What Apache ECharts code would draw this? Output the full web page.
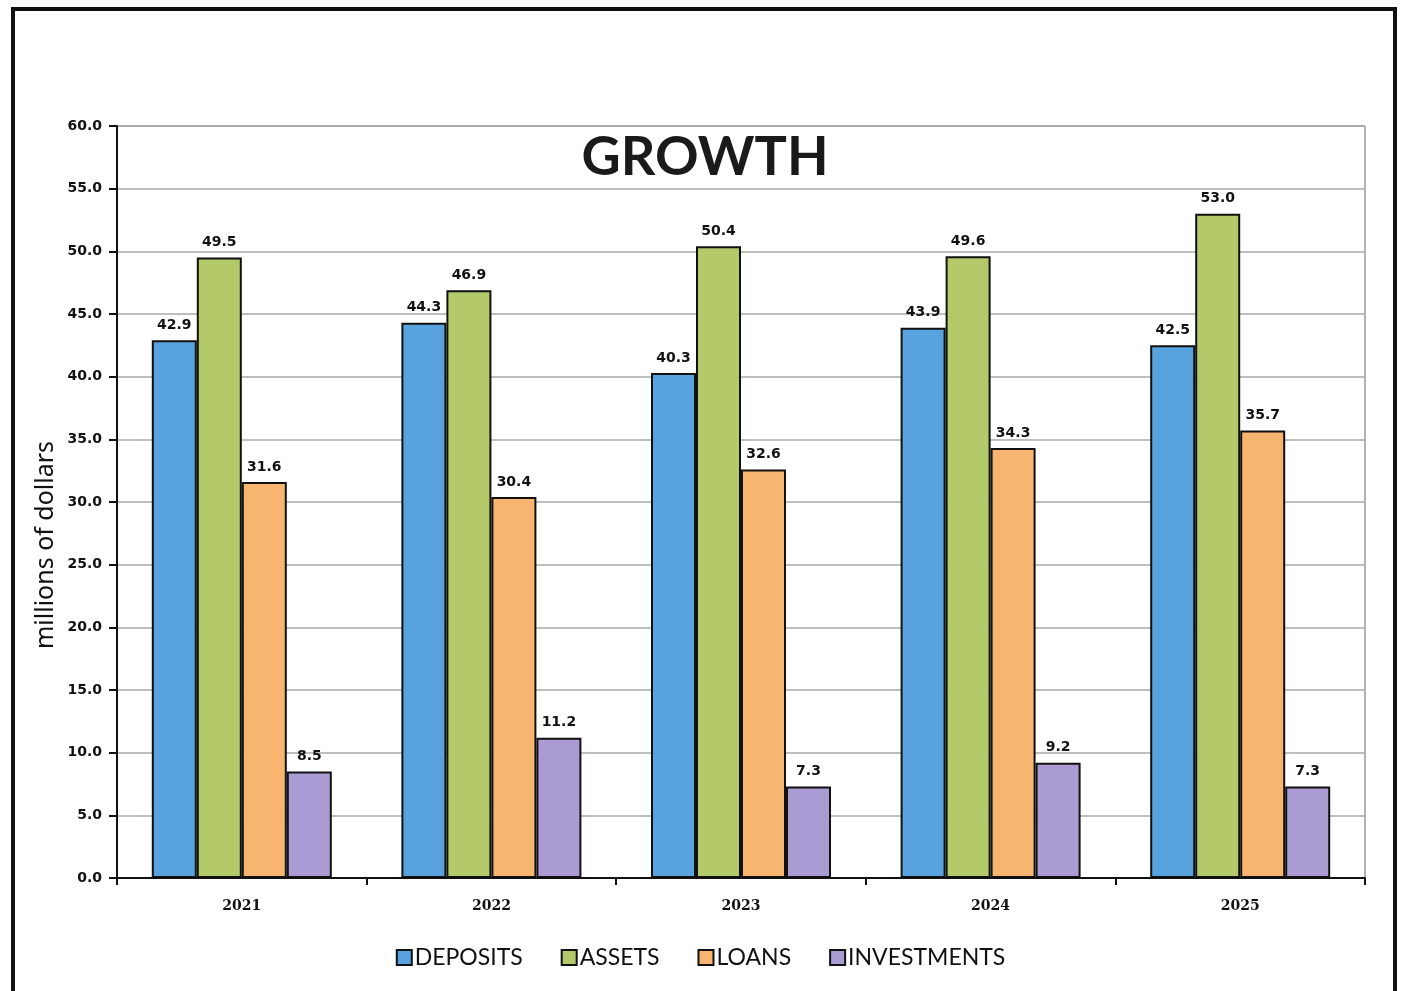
<!DOCTYPE html>
<html><head><meta charset="utf-8">
<script src="https://cdn.jsdelivr.net/npm/echarts@6/dist/echarts.min.js"></script>
<style>html,body{margin:0;padding:0;background:#fff}#c{width:1401px;height:991px}</style>
</head><body><div id="c"></div>
<script>
const years = ['2021','2022','2023','2024','2025'];
const deposits = [42.9, 44.3, 40.3, 43.9, 42.5];
const assets = [49.5, 46.9, 50.4, 49.6, 53.0];
const loans = [31.6, 30.4, 32.6, 34.3, 35.7];
const investments = [8.5, 11.2, 7.3, 9.2, 7.3];
const seriesNames = ['DEPOSITS','ASSETS','LOANS','INVESTMENTS'];
const colors = ['#58a3de','#b4ca6a','#f8b56f','#ab9bd3'];

const chart = echarts.init(document.getElementById('c'));
const lbl = {show:true, position:'top', distance:8, color:'#111', fontFamily:'DejaVu Sans', fontWeight:'bold', fontSize:14,
  formatter: p => p.value.toFixed(1)};
function mk(name, data, i){
  return {name, type:'bar', data, barWidth:45, barGap:'0%',
    itemStyle:{color:colors[i], borderColor:'#111', borderWidth:2}, label:lbl};
}
chart.setOption({
  animation:false,
  color: colors,
  graphic:[
    {type:'rect', shape:{x:13,y:9,width:1382,height:1000}, style:{fill:'none', stroke:'#111', lineWidth:4}},
    {type:'text', x:705, y:158, style:{text:'GROWTH', font:'bold 54px Lato', fill:'#1a1a1a', textAlign:'center', textVerticalAlign:'middle'}},
    {type:'text', x:46, y:545, rotation:Math.PI/2, style:{text:'millions of dollars', font:'25px "Noto Sans"', fill:'#111', textAlign:'center', textVerticalAlign:'middle'}},
    {type:'line', shape:{x1:117,y1:126,x2:1365,y2:126}, style:{stroke:'#999', lineWidth:1.5}},
    {type:'line', shape:{x1:1365,y1:126,x2:1365,y2:878}, style:{stroke:'#999', lineWidth:1.5}}
  ],
  grid:{left:117, right:36, top:126, bottom:113},
  legend:{bottom:17, left:'center', itemWidth:15, itemHeight:15, itemGap:38, icon:'rect',
    itemStyle:{borderColor:'#111', borderWidth:2},
    textStyle:{fontFamily:'Lato', fontSize:23, color:'#111', padding:[0,0,0,-2]}, data:seriesNames},
  xAxis:{type:'category', data:years,
    axisLine:{lineStyle:{color:'#111', width:2}},
    axisTick:{show:true, length:7, lineStyle:{color:'#111', width:2}},
    axisLabel:{margin:21, color:'#111', fontFamily:'DejaVu Serif', fontWeight:'bold', fontSize:14}},
  yAxis:{type:'value', min:0, max:60, interval:5,
    axisLine:{show:true, lineStyle:{color:'#111', width:2}},
    axisTick:{show:true, length:8, lineStyle:{color:'#111', width:2}},
    splitLine:{lineStyle:{color:'#aaa', width:1.5}},
    axisLabel:{margin:15, color:'#111', fontFamily:'DejaVu Sans', fontWeight:'bold', fontSize:14, formatter:v=>v.toFixed(1)}},
  series:[mk(seriesNames[0],deposits,0), mk(seriesNames[1],assets,1), mk(seriesNames[2],loans,2), mk(seriesNames[3],investments,3)]
});
</script></body></html>
